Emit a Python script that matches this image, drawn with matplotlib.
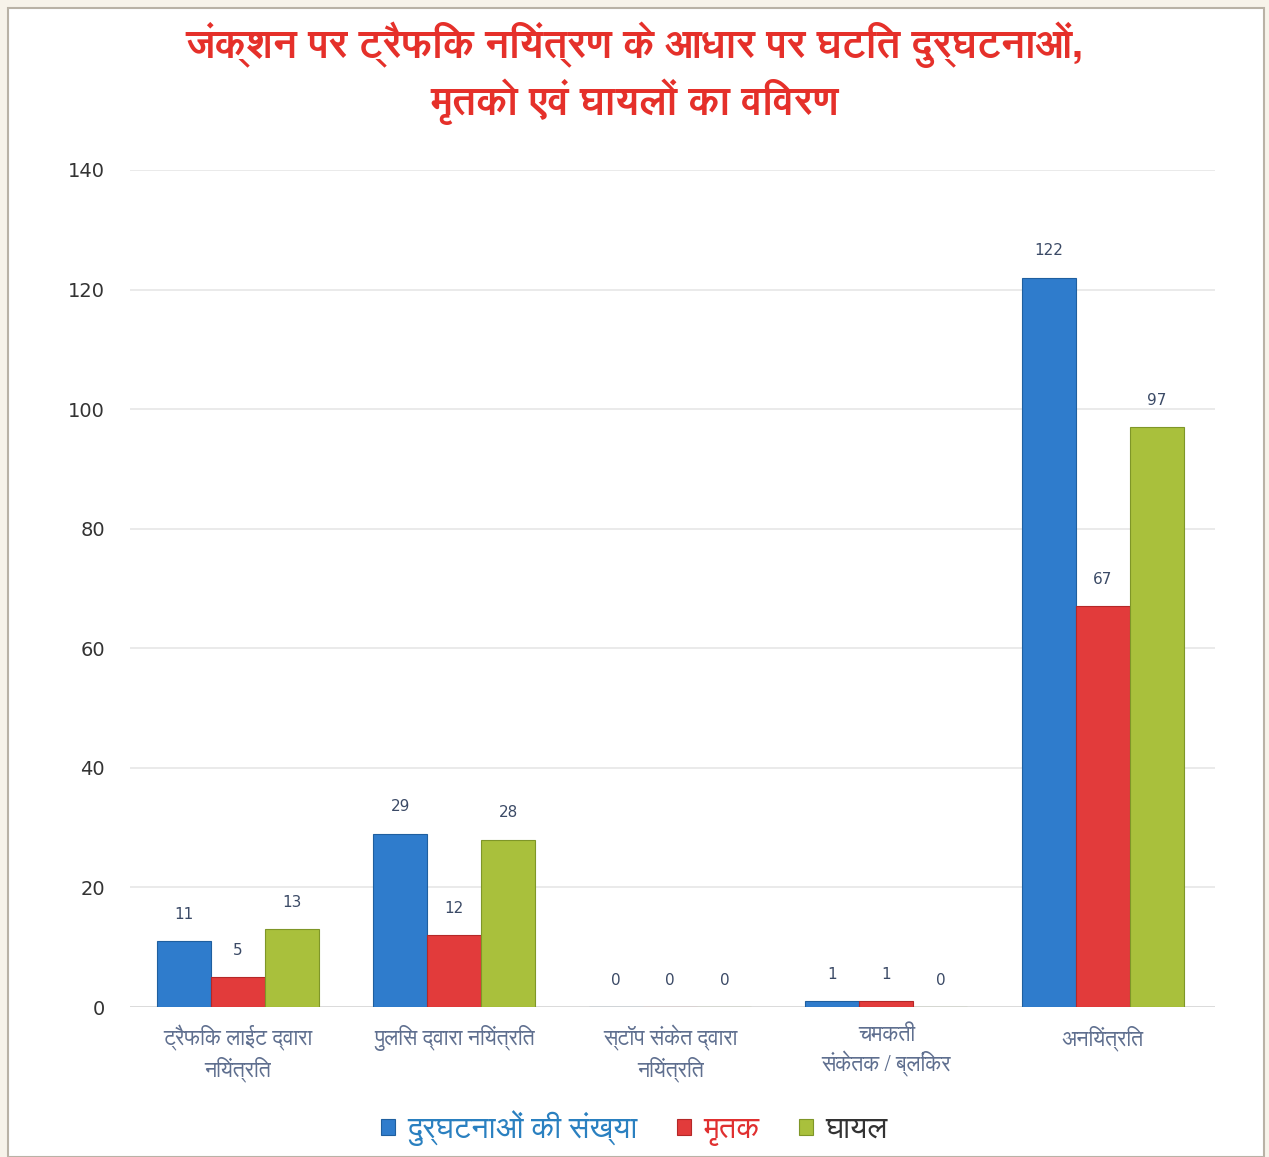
import numpy as np
import matplotlib
matplotlib.use("Agg")
from matplotlib import pyplot as plt
from matplotlib import font_manager
from matplotlib.ft2font import FT2Font
from matplotlib.patches import Rectangle

# Data
categories = ["ट्रैफिक लाईट द्वारा\nनियंत्रित", "पुलिस द्वारा नियंत्रित",
              "स्टॉप संकेत द्वारा\nनियंत्रित", "चमकती\nसंकेतक / ब्लिंकर", "अनियंत्रित"]
series_names = ["दुर्घटनाओं की संख्या", "मृतक", "घायल"]
accidents = [11, 29, 0, 1, 122]
deaths = [5, 12, 0, 1, 67]
injured = [13, 28, 0, 0, 97]
y_ticks = [0, 20, 40, 60, 80, 100, 120, 140]
title = "जंक्शन पर ट्रैफिक नियंत्रण के आधार पर घटित दुर्घटनाओं,\nमृतको एवं घायलों का विवरण"

# look for installed fonts that have Devanagari glyphs, prefer a non-mono one
found = []
for f in font_manager.fontManager.ttflist:
    try:
        if 0x0915 in FT2Font(f.fname).get_charmap():
            found.append(f.name)
    except Exception:
        pass
found.sort(key=lambda n: ("Mono" in n, "Sans" not in n, n))
families = found[:1] + ["DejaVu Sans"]
plt.rcParams["font.family"] = families

colors = ["#2f7ccc", "#e23b3b", "#a9c03c"]
edge = ["#1f5f9f", "#b42828", "#7f9628"]

fig = plt.figure(figsize=(12.69, 11.57), dpi=100)
fig.patch.set_facecolor("#f7f3ea")
# white panel with thin frame, kept behind the axes
panel = Rectangle((0.006, 0.0), 0.99, 0.993, transform=fig.transFigure,
                  facecolor="white", edgecolor="#b9b2a6", linewidth=1.5, zorder=-10)
fig.add_artist(panel)

ax = fig.add_axes([0.1024, 0.1296, 0.855, 0.7235])
ax.set_facecolor("none")
ax.set_zorder(5)

x = np.arange(len(categories))
w = 0.25
for i, vals in enumerate([accidents, deaths, injured]):
    bars = ax.bar(x + (i - 1) * w, vals, w, color=colors[i], edgecolor=edge[i],
                  linewidth=0.8, label=series_names[i], zorder=3)
    for b, v in zip(bars, vals):
        ax.annotate(str(v), (b.get_x() + b.get_width() / 2, v), xytext=(0, 14),
                    textcoords="offset points", ha="center", va="bottom",
                    fontsize=11, color="#3b4a66", family="DejaVu Sans")

ax.set_xlim(-0.5, 4.52)
ax.set_ylim(0, 140)
ax.set_yticks(y_ticks)
ax.set_yticklabels([str(t) for t in y_ticks], family="DejaVu Sans")
ax.tick_params(axis="y", length=0, labelsize=14, labelcolor="#333333", pad=18)
ax.tick_params(axis="x", length=0, labelsize=15.5, labelcolor="#5f6f8f", pad=13)
ax.set_xticks(x)
ax.set_xticklabels(categories, linespacing=1.25)
ax.grid(axis="y", color="#e6e6e6", linewidth=1.2, zorder=0)
for s in ax.spines.values():
    s.set_visible(False)
ax.axhline(0, color="#d9d9d9", linewidth=1.2, zorder=2)

fig.text(0.5, 0.937, title, ha="center", va="center", fontsize=28.5,
         color="#e5302a", linespacing=1.3, fontweight="bold")

leg = fig.legend(loc="center", bbox_to_anchor=(0.5, 0.025), ncol=3, frameon=False,
                 fontsize=22, handlelength=0.45, handleheight=0.45,
                 handletextpad=0.4, columnspacing=1.3)
for t, c in zip(leg.get_texts(), ["#2a80c0", "#e03030", "#333333"]):
    t.set_color(c)

fig.savefig("out.png", dpi=100, facecolor=fig.get_facecolor())
